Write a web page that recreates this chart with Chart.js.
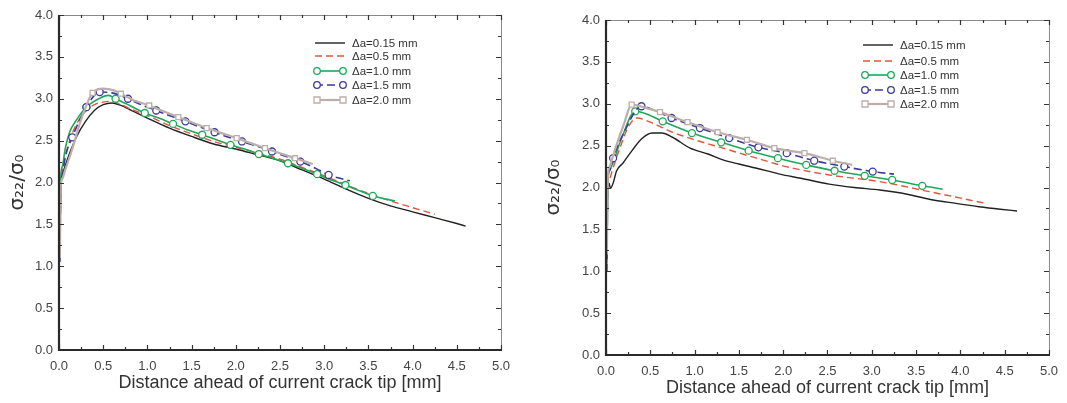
<!DOCTYPE html>
<html>
<head>
<meta charset="utf-8">
<script src="https://cdn.jsdelivr.net/npm/chart.js@4"></script>
<style>
body { margin: 0; background: #fff; }
#left { position: absolute; left: 0; top: 0; }
#right { position: absolute; left: 540px; top: 0; }
</style>
</head>
<body>
<canvas id="left" width="520" height="403"></canvas>
<canvas id="right" width="527" height="403"></canvas>
<script>
const seriesNames = ['\u0394a=0.15 mm', '\u0394a=0.5 mm', '\u0394a=1.0 mm', '\u0394a=1.5 mm', '\u0394a=2.0 mm'];
const xTicks = [0, 0.5, 1.0, 1.5, 2.0, 2.5, 3.0, 3.5, 4.0, 4.5, 5.0];
const yTicks = [0, 0.5, 1.0, 1.5, 2.0, 2.5, 3.0, 3.5, 4.0];

// left panel
const leftX015 = [0.01, 0.02, 0.04, 0.07, 0.12, 0.2, 0.3, 0.4, 0.5, 0.6, 0.7, 0.8, 1.0, 1.25, 1.5, 1.75, 2.0, 2.25, 2.5, 2.75, 3.0, 3.25, 3.5, 3.75, 4.0, 4.25, 4.5, 4.6];
const leftY015 = [1.2, 1.9, 2.1, 2.2, 2.35, 2.55, 2.73, 2.86, 2.93, 2.95, 2.92, 2.87, 2.77, 2.65, 2.55, 2.46, 2.4, 2.33, 2.26, 2.15, 2.04, 1.92, 1.81, 1.72, 1.65, 1.58, 1.51, 1.48];
const leftX05 = [0.01, 0.02, 0.04, 0.07, 0.12, 0.2, 0.3, 0.4, 0.5, 0.6, 0.7, 0.85, 1.0, 1.25, 1.5, 1.75, 2.0, 2.25, 2.5, 2.75, 3.0, 3.25, 3.5, 3.75, 4.0, 4.25];
const leftY05 = [1.3, 2.0, 2.15, 2.3, 2.5, 2.7, 2.85, 2.93, 2.96, 2.97, 2.93, 2.86, 2.8, 2.68, 2.58, 2.49, 2.42, 2.35, 2.28, 2.18, 2.08, 1.97, 1.87, 1.78, 1.7, 1.62];
const leftX10 = [0.01, 0.02, 0.04, 0.07, 0.12, 0.2, 0.31, 0.45, 0.56, 0.64, 0.8, 0.97, 1.13, 1.29, 1.45, 1.62, 1.78, 1.94, 2.1, 2.26, 2.42, 2.59, 2.75, 2.92, 3.08, 3.24, 3.4, 3.55, 3.8];
const leftY10 = [1.35, 2.05, 2.2, 2.4, 2.6, 2.75, 2.9, 3.0, 3.04, 3.0, 2.92, 2.83, 2.77, 2.7, 2.63, 2.57, 2.51, 2.45, 2.4, 2.34, 2.29, 2.23, 2.17, 2.1, 2.03, 1.97, 1.9, 1.84, 1.78];
const leftM10 = [6, 9, 11, 13, 15, 17, 19, 21, 23, 25, 27];
const leftX15 = [0.01, 0.02, 0.04, 0.07, 0.15, 0.31, 0.46, 0.6, 0.78, 0.95, 1.1, 1.27, 1.43, 1.6, 1.76, 1.92, 2.07, 2.25, 2.41, 2.57, 2.73, 2.9, 3.05, 3.18, 3.29];
const leftY15 = [1.05, 1.9, 2.1, 2.3, 2.54, 2.9, 3.08, 3.07, 3.0, 2.92, 2.86, 2.79, 2.73, 2.66, 2.6, 2.54, 2.49, 2.43, 2.37, 2.31, 2.25, 2.17, 2.09, 2.05, 2.02];
const leftM15 = [4, 5, 6, 8, 10, 12, 14, 16, 18, 20, 22];
const leftX20 = [0.01, 0.02, 0.04, 0.07, 0.15, 0.25, 0.38, 0.5, 0.62, 0.7, 0.85, 1.02, 1.18, 1.35, 1.5, 1.67, 1.84, 2.01, 2.17, 2.33, 2.5, 2.67, 2.87];
const leftY20 = [1.1, 1.95, 2.05, 2.15, 2.4, 2.75, 3.07, 3.12, 3.1, 3.06, 2.98, 2.92, 2.85, 2.78, 2.72, 2.65, 2.59, 2.53, 2.47, 2.41, 2.35, 2.29, 2.22];
const leftM20 = [6, 9, 11, 13, 15, 17, 19, 21];

// right panel
const rightX015 = [0.01, 0.02, 0.035, 0.05, 0.08, 0.12, 0.19, 0.3, 0.4, 0.52, 0.63, 0.75, 0.95, 1.15, 1.32, 1.5, 1.7, 1.96, 2.2, 2.52, 2.8, 3.09, 3.4, 3.65, 3.95, 4.21, 4.45, 4.64];
const rightY015 = [1.3, 1.95, 2.05, 1.99, 2.05, 2.2, 2.29, 2.45, 2.58, 2.65, 2.65, 2.6, 2.47, 2.4, 2.33, 2.28, 2.23, 2.16, 2.11, 2.04, 2.0, 1.97, 1.92, 1.86, 1.81, 1.77, 1.74, 1.72];
const rightX05 = [0.01, 0.02, 0.04, 0.07, 0.15, 0.25, 0.35, 0.5, 0.75, 1.0, 1.32, 1.7, 2.07, 2.52, 3.09, 3.65, 4.29];
const rightY05 = [1.2, 2.0, 2.1, 2.2, 2.45, 2.72, 2.83, 2.78, 2.66, 2.57, 2.47, 2.35, 2.24, 2.15, 2.07, 1.95, 1.81];
const rightX10 = [0.01, 0.02, 0.04, 0.08, 0.18, 0.33, 0.45, 0.64, 0.97, 1.3, 1.61, 1.94, 2.26, 2.58, 2.92, 3.23, 3.57, 3.8];
const rightY10 = [1.1, 2.05, 2.2, 2.3, 2.6, 2.91, 2.88, 2.79, 2.65, 2.54, 2.44, 2.35, 2.27, 2.2, 2.14, 2.09, 2.02, 1.98];
const rightM10 = [5, 7, 8, 9, 10, 11, 12, 13, 14, 15, 16];
const rightX15 = [0.01, 0.02, 0.04, 0.08, 0.2, 0.4, 0.55, 0.74, 1.06, 1.39, 1.72, 2.04, 2.35, 2.69, 3.01, 3.25];
const rightY15 = [1.0, 2.1, 2.2, 2.35, 2.65, 2.97, 2.92, 2.83, 2.71, 2.59, 2.48, 2.41, 2.32, 2.25, 2.19, 2.16];
const rightM15 = [3, 5, 7, 8, 9, 10, 11, 12, 13, 14];
const rightX20 = [0.01, 0.02, 0.04, 0.1, 0.2, 0.29, 0.45, 0.61, 0.92, 1.26, 1.59, 1.9, 2.24, 2.56, 2.78];
const rightY20 = [1.2, 2.1, 2.25, 2.45, 2.75, 2.99, 2.95, 2.9, 2.78, 2.66, 2.57, 2.47, 2.41, 2.32, 2.27];
const rightM20 = [5, 7, 8, 9, 10, 11, 12, 13];

const styles = [
  { color: '#222222', width: 1.4, dash: [], point: false },
  { color: '#e2553a', width: 1.4, dash: [7, 4], point: false },
  { color: '#1ea85a', width: 1.6, dash: [], point: 'circle' },
  { color: '#3d3a98', width: 1.6, dash: [8, 4], point: 'circle' },
  { color: '#bcaeab', width: 2.2, dash: [], point: 'rect' }
];
const FONT = '"Liberation Sans", Arial, sans-serif';

function makeSet(i, xs, ys, marks) {
  const s = styles[i];
  return {
    label: seriesNames[i],
    data: xs.map((x, k) => ({ x: x, y: ys[k] })),
    borderColor: s.color,
    borderWidth: s.width,
    borderDash: s.dash,
    pointStyle: s.point || 'circle',
    pointRadius: c => (marks && marks.includes(c.dataIndex)) ? 3.5 : 0,
    pointBorderColor: s.color,
    pointBackgroundColor: '#ffffff',
    pointBorderWidth: 1.3,
    cubicInterpolationMode: 'monotone',
    order: 5 - i
  };
}

const framePlugin = {
  id: 'frame',
  afterDraw(chart) {
    const ctx = chart.ctx, a = chart.chartArea;
    const xs = chart.scales.x, ys = chart.scales.y;
    ctx.save();
    ctx.strokeStyle = '#888';
    ctx.lineWidth = 1;
    ctx.beginPath();
    ctx.moveTo(a.left, a.top + 0.5);
    ctx.lineTo(a.right + 0.5, a.top + 0.5);
    ctx.lineTo(a.right + 0.5, a.bottom);
    ctx.stroke();
    ctx.strokeStyle = '#333';
    ctx.lineWidth = 1.2;
    ctx.beginPath();
    for (let i = 0; i <= 20; i++) {
      const px = Math.round(xs.getPixelForValue(i * 0.25)) + 0.5;
      const len = i % 2 ? 3 : 5;
      ctx.moveTo(px, a.bottom); ctx.lineTo(px, a.bottom - len);
      ctx.moveTo(px, a.top); ctx.lineTo(px, a.top + len);
    }
    for (let i = 0; i <= 16; i++) {
      const py = Math.round(ys.getPixelForValue(i * 0.25)) + 0.5;
      const len = i % 2 ? 3 : 5;
      ctx.moveTo(a.left, py); ctx.lineTo(a.left + len, py);
      ctx.moveTo(a.right, py); ctx.lineTo(a.right - len, py);
    }
    ctx.stroke();
    ctx.strokeStyle = '#2a2a2a';
    ctx.lineWidth = 2.2;
    ctx.beginPath();
    ctx.moveTo(a.left, a.top);
    ctx.lineTo(a.left, a.bottom);
    ctx.lineTo(a.right + 1, a.bottom);
    ctx.stroke();
    ctx.restore();
  }
};

const legendPlugin = {
  id: 'sideLegend',
  afterDraw(chart, args, opts) {
    const ctx = chart.ctx;
    ctx.save();
    ctx.font = '11.5px ' + FONT;
    ctx.textBaseline = 'middle';
    chart.data.datasets.forEach((d, i) => {
      const s = styles[i];
      const y = opts.rows[i];
      ctx.strokeStyle = s.color;
      ctx.lineWidth = s.width;
      ctx.setLineDash(s.dash);
      ctx.beginPath();
      ctx.moveTo(opts.x0, y);
      ctx.lineTo(opts.x1, y);
      ctx.stroke();
      ctx.setLineDash([]);
      if (s.point) {
        [opts.x0 + 2, opts.x1 - 2].forEach(px => {
          ctx.beginPath();
          if (s.point === 'rect') ctx.rect(px - 3, y - 3, 6, 6);
          else ctx.arc(px, y, 3.3, 0, Math.PI * 2);
          ctx.fillStyle = '#fff';
          ctx.fill();
          ctx.lineWidth = 1.3;
          ctx.stroke();
        });
      }
      ctx.fillStyle = '#333';
      ctx.fillText(d.label, opts.tx, y + 1);
    });
    ctx.restore();
  }
};

function makeChart(id, sets, yWidth, xHeight, pad, legendOpts) {
  return new Chart(document.getElementById(id), {
    type: 'line',
    data: { datasets: sets },
    options: {
      responsive: false,
      animation: false,
      layout: { padding: pad },
      plugins: {
        legend: { display: false },
        tooltip: { enabled: false },
        sideLegend: legendOpts
      },
      scales: {
        x: {
          type: 'linear', min: 0, max: 5,
          afterBuildTicks: s => { s.ticks = xTicks.map(v => ({ value: v })); },
          afterFit: s => { s.height = xHeight; },
          grid: { display: false, drawTicks: false, tickLength: 0 },
          border: { display: false },
          ticks: {
            padding: 9,
            color: '#444',
            font: { size: 13, family: FONT },
            callback: v => v.toFixed(1),
            maxRotation: 0
          },
          title: {
            display: true,
            text: 'Distance ahead of current crack tip [mm]',
            color: '#333',
            padding: { top: 0, bottom: 0 },
            font: { size: 18, family: FONT }
          }
        },
        y: {
          type: 'linear', min: 0, max: 4,
          afterBuildTicks: s => { s.ticks = yTicks.map(v => ({ value: v })); },
          afterFit: s => { s.width = yWidth; },
          grid: { display: false, drawTicks: false, tickLength: 0 },
          border: { display: false },
          ticks: {
            padding: 6,
            color: '#444',
            font: { size: 13, family: FONT },
            callback: v => v.toFixed(1)
          },
          title: {
            display: true,
            text: '\u03c3\u2082\u2082/\u03c3\u2080',
            color: '#333',
            padding: { top: 0, bottom: 0 },
            font: { size: 20, family: '"DejaVu Sans", "Liberation Sans", sans-serif' }
          }
        }
      }
    },
    plugins: [framePlugin, legendPlugin]
  });
}

makeChart('left', [
  makeSet(0, leftX015, leftY015),
  makeSet(1, leftX05, leftY05),
  makeSet(2, leftX10, leftY10, leftM10),
  makeSet(3, leftX15, leftY15, leftM15),
  makeSet(4, leftX20, leftY20, leftM20)
], 53, 44, { top: 15, right: 19, left: 6, bottom: 9 },
  { x0: 315, x1: 345, tx: 352, rows: [43, 56, 71, 85, 100] });

makeChart('right', [
  makeSet(0, rightX015, rightY015),
  makeSet(1, rightX05, rightY05),
  makeSet(2, rightX10, rightY10, rightM10),
  makeSet(3, rightX15, rightY15, rightM15),
  makeSet(4, rightX20, rightY20, rightM20)
], 64, 44, { top: 20, right: 17, left: 2, bottom: 4 },
  { x0: 323, x1: 353, tx: 360, rows: [45, 61, 75, 90, 104] });
</script>
</body>
</html>
